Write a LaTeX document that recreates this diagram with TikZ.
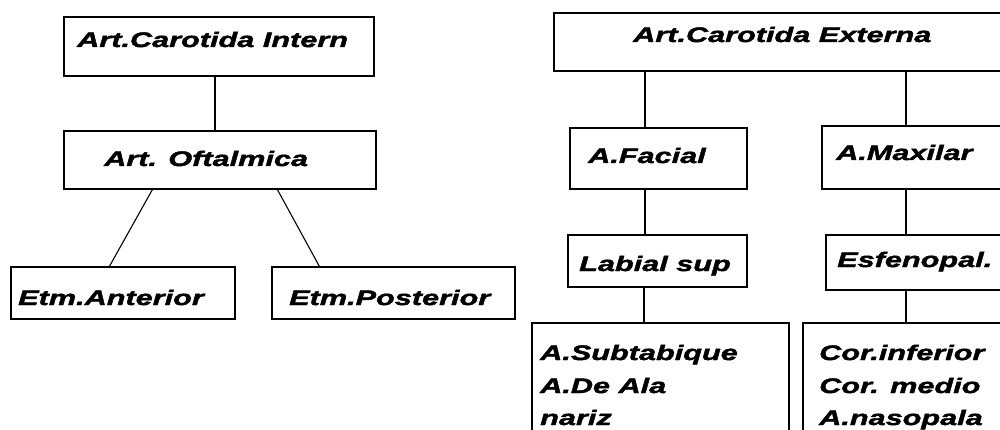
\documentclass[tikz,border=0pt]{standalone}
\usepackage{fontspec}
\setmainfont{Liberation Sans}
\newfontfamily\boxfont{Liberation Sans}[FakeStretch=1.46,FakeBold=2]
\usetikzlibrary{calc}
\begin{document}
\begin{tikzpicture}[x=1pt,y=-1pt,
  box/.style={draw, line width=1.2pt, inner sep=0pt},
  lbl/.style={inner sep=0pt, anchor=base west, font=\boxfont\bfseries\itshape\fontsize{21}{33}\selectfont},
  link/.style={line width=1.1pt}]
\useasboundingbox (0,0) rectangle (1000,430);
\clip (0,0) rectangle (1000,430);
% left tree
\node[box, minimum width=310pt, minimum height=59pt] (ci) at (219,46.5) {};
\node[box, minimum width=312pt, minimum height=58pt] (of) at (220,160) {};
\node[box, minimum width=224pt, minimum height=52pt] (ea) at (123,293) {};
\node[box, minimum width=243pt, minimum height=52pt] (ep) at (393.5,293) {};
\node[lbl] (tci) at (77,47) {Art.Carotida Intern};
\node[lbl] (tof) at (104,166) {Art. Oftalmica};
\node[lbl] (tea) at (18,305) {Etm.Anterior};
\node[lbl] (tep) at (289,305) {Etm.Posterior};
\draw[link] ($(ci.south)+(-4,0)$) -- ($(of.north)+(-5,0)$);
\draw[link] ($(of.south west)+(89,0)$) -- ($(ea.north west)+(99,0)$);
\draw[link] ($(of.south west)+(214,0)$) -- ($(ep.north west)+(48,0)$);
% right tree
\node[box, minimum width=456pt, minimum height=58pt] (ce) at (782,42) {};
\node[box, minimum width=177pt, minimum height=61pt] (fa) at (658.5,158.5) {};
\node[box, minimum width=188pt, minimum height=63pt] (mx) at (916,157.5) {};
\node[box, minimum width=179pt, minimum height=52pt] (ls) at (657.5,261) {};
\node[box, minimum width=184pt, minimum height=55pt] (es) at (918,262.5) {};
\node[box, minimum width=257pt, minimum height=117pt] (sub) at (660.5,381.5) {};
\node[box, minimum width=207pt, minimum height=117pt] (cor) at (906.5,381.5) {};
\node[lbl] (tce) at (633,42) {Art.Carotida Externa};
\node[lbl] (tfa) at (588,163) {A.Facial};
\node[lbl] (tmx) at (836,160) {A.Maxilar};
\node[lbl] (tls) at (579,271) {Labial sup};
\node[lbl] (tes) at (837,267) {Esfenopal.};
\node[lbl] (ts1) at (540,360) {A.Subtabique};
\node[lbl] (ts2) at (540,393) {A.De Ala};
\node[lbl] (ts3) at (540,425) {nariz};
\node[lbl] (tc1) at (819,360) {Cor.inferior};
\node[lbl] (tc2) at (819,393) {Cor. medio};
\node[lbl] (tc3) at (819,425) {A.nasopala};
\coordinate (pfa) at ($(fa.north)+(-13.5,0)$);
\coordinate (pmx) at ($(mx.north)+(-10,0)$);
\coordinate (pls) at ($(ls.north)+(-12.5,0)$);
\coordinate (psub) at ($(sub.north)+(-16.5,0)$);
\coordinate (pes) at ($(es.north)+(-12,0)$);
\coordinate (pcor) at ($(cor.north)+(-0.5,0)$);
\draw[link] (pfa) -- (pfa |- ce.south);
\draw[link] (pmx) -- (pmx |- ce.south);
\draw[link] (pls) -- (pls |- fa.south);
\draw[link] (psub) -- (psub |- ls.south);
\draw[link] (pes) -- (pes |- mx.south);
\draw[link] (pcor) -- (pcor |- es.south);
\end{tikzpicture}
\end{document}
